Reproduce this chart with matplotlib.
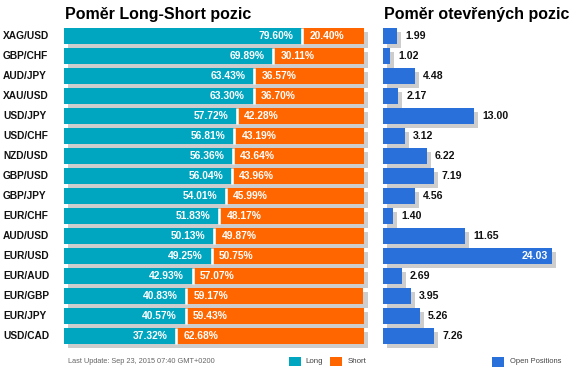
import matplotlib
matplotlib.use("Agg")
import matplotlib.pyplot as plt
from matplotlib import transforms
from matplotlib.patches import Rectangle

plt.rcParams['font.family'] = ['Liberation Sans', 'DejaVu Sans']

pairs = ['XAG/USD', 'GBP/CHF', 'AUD/JPY', 'XAU/USD', 'USD/JPY', 'USD/CHF',
         'NZD/USD', 'GBP/USD', 'GBP/JPY', 'EUR/CHF', 'AUD/USD', 'EUR/USD',
         'EUR/AUD', 'EUR/GBP', 'EUR/JPY', 'USD/CAD']
long_pct = [79.60, 69.89, 63.43, 63.30, 57.72, 56.81, 56.36, 56.04, 54.01,
            51.83, 50.13, 49.25, 42.93, 40.83, 40.57, 37.32]
short_pct = [20.40, 30.11, 36.57, 36.70, 42.28, 43.19, 43.64, 43.96, 45.99,
             48.17, 49.87, 50.75, 57.07, 59.17, 59.43, 62.68]
open_pos = [1.99, 1.02, 4.48, 2.17, 13.00, 3.12, 6.22, 7.19, 4.56, 1.40,
            11.65, 24.03, 2.69, 3.95, 5.26, 7.26]

title_left = 'Poměr Long-Short pozic'
title_right = 'Poměr otevřených pozic'
footer = 'Last Update: Sep 23, 2015 07:40 GMT+0200'

TEAL = '#00A5BF'
ORANGE = '#FF6600'
BLUE = '#2970DB'
SHADOW = '#CDCDCD'

W, H = 578, 373
fig = plt.figure(figsize=(W / 100, H / 100), dpi=100)

def fx(px):
    return px / W

def fy(py):
    return 1 - py / H

ax_top, ax_bot = 26, 346
axL = fig.add_axes([fx(64), fy(ax_bot), fx(363.5) - fx(64), (ax_bot - ax_top) / H])
axR = fig.add_axes([fx(383), fy(ax_bot), 175.8 / W, (ax_bot - ax_top) / H])

ys = list(range(len(pairs)))
bh = 0.78

for ax in (axL, axR):
    ax.set_ylim(len(pairs) - 0.5, -0.5)
    ax.axis('off')
axL.set_xlim(0, 100)
axR.set_xlim(0, 25)

# Left panel
shL = transforms.offset_copy(axL.transData, fig=fig, x=4, y=-4, units='dots')
totals = [l + s for l, s in zip(long_pct, short_pct)]
axL.barh(ys, totals, height=bh, color=SHADOW, transform=shL, clip_on=False, zorder=1)
axL.barh(ys, long_pct, height=bh, color=TEAL, zorder=2)
axL.barh(ys, short_pct, left=long_pct, height=bh, color=ORANGE, zorder=2)
axL.vlines(long_pct, [y - bh / 2 for y in ys], [y + bh / 2 for y in ys],
           colors='white', linewidth=1.9, zorder=3)

for y, l, s in zip(ys, long_pct, short_pct):
    axL.annotate(f'{l:.2f}%', (l, y), xytext=(-6.2, 0), textcoords='offset points',
                 ha='right', va='center', color='white', fontsize=7.4,
                 fontweight='bold', zorder=4)
    axL.annotate(f'{s:.2f}%', (l, y), xytext=(5.4, 0), textcoords='offset points',
                 ha='left', va='center', color='white', fontsize=7.4,
                 fontweight='bold', zorder=4)

lab_tr = transforms.blended_transform_factory(fig.transFigure, axL.transData)
for y, p in zip(ys, pairs):
    axL.text(fx(3), y, p, transform=lab_tr, ha='left', va='center',
             fontsize=7.3, fontweight='bold', color='#111111')

# Right panel
shR = transforms.offset_copy(axR.transData, fig=fig, x=4, y=-4, units='dots')
axR.barh(ys, open_pos, height=bh, color=SHADOW, transform=shR, clip_on=False, zorder=1)
axR.barh(ys, open_pos, height=bh, color=BLUE, zorder=2)
vmax = max(open_pos)
for y, v in zip(ys, open_pos):
    if v == vmax:
        axR.annotate(f'{v:.2f}', (v, y), xytext=(-3, 0), textcoords='offset points',
                     ha='right', va='center', color='white', fontsize=7.6,
                     fontweight='bold', zorder=4)
    else:
        axR.annotate(f'{v:.2f}', (v, y), xytext=(5.8, 0), textcoords='offset points',
                     ha='left', va='center', color='#111111', fontsize=7.6,
                     fontweight='bold', zorder=4)

# Titles
fig.text(fx(65), fy(19.5), title_left, ha='left', va='baseline',
         fontsize=11.5, fontweight='bold', color='#000000')
fig.text(fx(383.5), fy(19.5), title_right, ha='left', va='baseline',
         fontsize=11.5, fontweight='bold', color='#000000')

# Footer and legends
fig.text(fx(68), fy(361.5), footer, ha='left', va='center', fontsize=5.35, color='#666666')

def swatch(x0, x1, y0, y1, color):
    fig.add_artist(Rectangle((fx(x0), fy(y1)), fx(x1) - fx(x0), (y1 - y0) / H,
                             transform=fig.transFigure, facecolor=color,
                             edgecolor='none'))

swatch(289, 301, 357, 366, TEAL)
fig.text(fx(305), fy(361.5), 'Long', ha='left', va='center', fontsize=5.7, color='#444444')
swatch(329.5, 342, 357, 366, ORANGE)
fig.text(fx(347.5), fy(361.5), 'Short', ha='left', va='center', fontsize=5.7, color='#444444')
swatch(492, 504, 357, 366.5, BLUE)
fig.text(fx(509.5), fy(361.5), 'Open Positions', ha='left', va='center', fontsize=5.45, color='#444444')

fig.savefig('out.png', dpi=100)
